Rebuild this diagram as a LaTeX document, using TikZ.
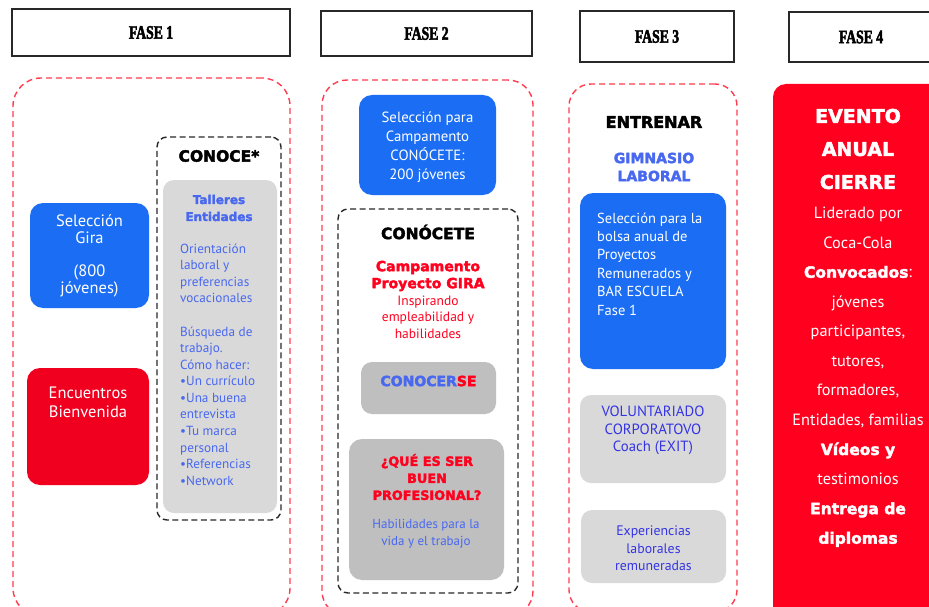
\documentclass[tikz,border=0pt]{standalone}
\usepackage{fontspec}
\setmainfont{PT Sans}
\newfontfamily\heavy{DejaVu Sans}[BoldFeatures={FakeBold=2.5}]
\newfontfamily\fasefont{Liberation Serif}[FakeStretch=0.72,BoldFeatures={FakeBold=2.5}]
\newcommand\myfs[2]{\fontsize{#1}{#2}\selectfont}
\definecolor{dashred}{RGB}{255,60,80}
\definecolor{dashblk}{RGB}{40,40,40}
\definecolor{boxblue}{RGB}{27,110,243}
\definecolor{boxred}{RGB}{240,0,30}
\definecolor{boxredb}{RGB}{255,0,30}
\definecolor{greyl}{RGB}{217,217,217}
\definecolor{greyd}{RGB}{191,191,191}
\definecolor{txtblue}{RGB}{72,104,240}
\definecolor{txtblueb}{RGB}{52,52,228}
\definecolor{txtred}{RGB}{255,0,30}
\tikzset{
  reddash/.style={rectangle, draw=dashred, line width=1.4pt, dash pattern=on 6pt off 4pt, rounded corners=#1, inner sep=0pt},
  blkdash/.style={rectangle, draw=dashblk, line width=1.4pt, dash pattern=on 6pt off 3.5pt, rounded corners=10pt, inner sep=0pt},
  fasebox/.style={rectangle, draw=dashblk, line width=1.4pt, inner sep=0pt, font=\fasefont\bfseries\myfs{19}{20}},
  fillbox/.style={rectangle, fill=#1, rounded corners=13pt, inner sep=0pt},
  txt/.style={inner sep=0pt, align=center},
  hv/.style={font=\heavy\bfseries\myfs{#1}{#1}},
}
\begin{document}
\begin{tikzpicture}[x=1pt,y=-1pt]
\useasboundingbox (0,0) rectangle (929,607);
\clip (0,0) rectangle (929,607);
\fill[white] (0,0) rectangle (929,607);

% FASE headers
\node[fasebox, minimum width=278pt, minimum height=47pt] (f1) at (151,32.5) {FASE 1};
\node[fasebox, minimum width=211pt, minimum height=45pt] (f2) at (426.5,33.5) {FASE 2};
\node[fasebox, minimum width=154pt, minimum height=51pt] (f3) at (657,36.5) {FASE 3};
\node[fasebox, minimum width=144pt, minimum height=50pt] (f4) at (861,37) {FASE 4};

% phase containers
\node[reddash=28pt, minimum width=277pt, minimum height=538pt] (c1) at (151.5,347) {};
\node[reddash=25pt, minimum width=211pt, minimum height=536pt] (c2) at (427.5,348) {};
\node[reddash=22pt, minimum width=168pt, minimum height=528pt] (c3) at (653,348) {};
\node[fillbox=boxredb, minimum width=172pt, minimum height=541pt] (p4) at (859,354.5) {};

% ---------- Phase 1
\node[fillbox=boxblue, minimum width=119pt, minimum height=105pt] (b1) at (89.5,255.5) {};
\node[txt, text=white, font=\myfs{16.5}{17}] (b1t) at (89.5,256) {Selección\\Gira\\[16pt](800\\jóvenes)};
\node[fillbox=boxred, minimum width=122pt, minimum height=117pt] (r1) at (88,426.5) {};
\node[txt, text=white, font=\myfs{16.5}{19}] (r1t) at (88,402) {Encuentros\\Bienvenida};

\node[blkdash, minimum width=124pt, minimum height=383pt] (k1) at (219,328.5) {};
\node[txt, hv=15.5] (k1t) at (219,156) {CONOCE*};
\node[fillbox=greyl, rounded corners=11pt, minimum width=114pt, minimum height=333pt] (g1) at (220,346.5) {};
\node[txt, text=txtblue, font=\heavy\bfseries\myfs{12}{17}] (g1h) at (219,208) {Talleres\\Entidades};
\node[inner sep=0pt, align=left, anchor=west, text=txtblue, font=\myfs{13.2}{16.57}] (g1t) at (180,364.5)
  {Orientación\\laboral y\\preferencias\\vocacionales\\[16.57pt]Búsqueda de\\trabajo.\\Cómo hacer:\\•Un currículo\\•Una buena\\entrevista\\•Tu marca\\personal\\•Referencias\\•Network};

% ---------- Phase 2
\node[fillbox=boxblue, minimum width=137pt, minimum height=100pt] (b2) at (427.5,145) {};
\node[txt, text=white, font=\myfs{14.8}{19}] (b2t) at (427.5,147) {Selección para\\Campamento\\CONÓCETE:\\200 jóvenes};
\node[blkdash, minimum width=180pt, minimum height=384pt] (k2) at (428,401) {};
\node[txt, hv=15.5] (k2t) at (428,232) {CONÓCETE};
\node[txt, text=txtred, font=\heavy\bfseries\myfs{14}{17}] (k2h) at (428,276) {Campamento\\Proyecto GIRA};
\node[txt, text=txtred, font=\myfs{13.5}{16.5}] (k2s) at (428,317) {Inspirando\\empleabilidad y\\habilidades};
\node[fillbox=greyd, rounded corners=11pt, minimum width=135pt, minimum height=52pt] (g2) at (428.5,388) {};
\node[txt, font=\heavy\bfseries\myfs{14}{14}] (g2t) at (428.5,381) {\textcolor{txtblue}{CONOCER}\textcolor{txtred}{SE}};
\node[fillbox=greyd, rounded corners=13pt, minimum width=155pt, minimum height=141pt] (g3) at (426.5,509.5) {};
\node[txt, text=txtred, font=\heavy\bfseries\myfs{12.8}{17}] (g3h) at (427,477) {¿QUÉ ES SER\\BUEN\\PROFESIONAL?};
\node[txt, text=txtblue, font=\myfs{13}{17}] (g3t) at (426,534) {Habilidades para la\\vida y el trabajo};

% ---------- Phase 3
\node[txt, hv=16] (c3t) at (654,122) {ENTRENAR};
\node[txt, text=txtblue, font=\heavy\bfseries\myfs{14}{18}] (c3h) at (654,167) {GIMNASIO\\LABORAL};
\node[fillbox=boxblue, minimum width=146pt, minimum height=176pt] (b3) at (653,281) {};
\node[inner sep=0pt, align=left, anchor=west, text=white, font=\myfs{14.5}{18.4}] (b3t) at (597,264)
  {Selección para la\\bolsa anual de\\Proyectos\\Remunerados y\\BAR ESCUELA\\Fase 1};
\node[fillbox=greyl, rounded corners=11pt, minimum width=146pt, minimum height=88pt] (g4) at (653,439) {};
\node[txt, text=txtblueb, font=\myfs{14.8}{17.5}] (g4t) at (653,430.5) {VOLUNTARIADO\\CORPORATOVO\\Coach (EXIT)};
\node[fillbox=greyl, rounded corners=11pt, minimum width=145pt, minimum height=73pt] (g5) at (653.5,546.5) {};
\node[txt, text=txtblueb, font=\myfs{13.8}{17.5}] (g5t) at (653.5,548.5) {Experiencias\\laborales\\remuneradas};

% ---------- Phase 4
\node[txt, text=white, font=\heavy\bfseries\myfs{19}{33}] (p4h) at (858,149) {EVENTO\\ANUAL\\CIERRE};
\node[txt, text=white, font=\myfs{16.3}{29.55}] (p4t) at (858,377)
  {Liderado por\\Coca-Cola\\{\heavy\bfseries\myfs{15.5}{29.55}Convocados}:\\jóvenes\\participantes,\\tutores,\\formadores,\\Entidades, familias\\{\heavy\bfseries\myfs{15.5}{29.55}Vídeos y}\\testimonios\\{\heavy\bfseries\myfs{15.5}{29.55}Entrega de}\\{\heavy\bfseries\myfs{15.5}{29.55}diplomas}};
\end{tikzpicture}
\end{document}
